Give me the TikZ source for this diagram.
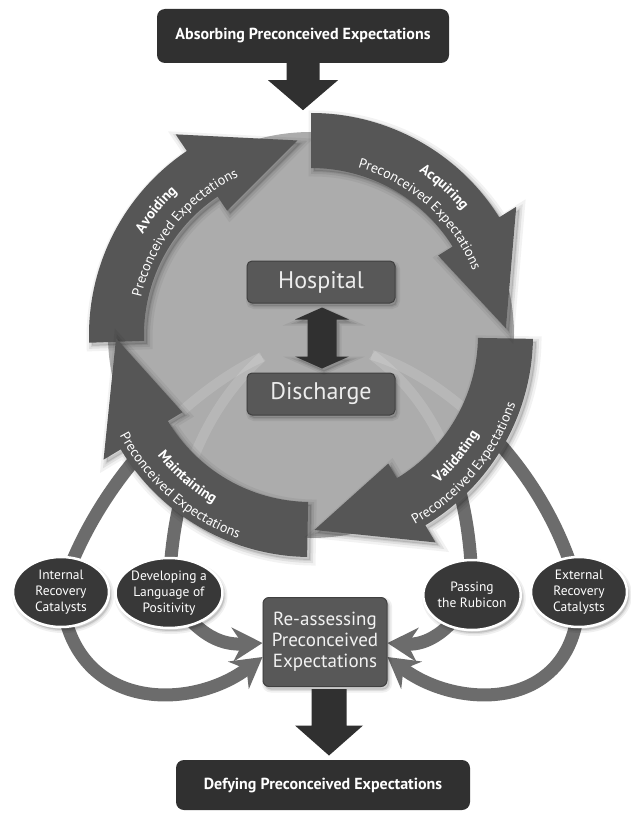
\documentclass[tikz,border=0pt]{standalone}
\usepackage{fontspec}
\setmainfont{PT Sans}
\usetikzlibrary{arrows.meta}
\usetikzlibrary{calc}
\usetikzlibrary{shapes.geometric}
\usetikzlibrary{decorations.text}

\definecolor{boxdark}{RGB}{48,48,48}
\definecolor{ringgray}{RGB}{86,86,86}
\definecolor{discgray}{RGB}{172,172,172}
\definecolor{catgray}{RGB}{108,108,108}
\definecolor{midbox}{RGB}{88,88,88}
\definecolor{ovalgray}{RGB}{56,56,56}

\pgfdeclarelayer{bg}
\pgfsetlayers{bg,main}

\newcommand{\txtsize}[2]{\fontsize{#1}{#2}\selectfont}

% one quarter of the cycle, #1 = angle of the tail
\newcommand{\cyclearrow}[1]{%
  \fill[ringgray, ringshadow]
    (#1:167) -- (#1:222)
    arc[start angle=#1, end angle=#1-58, radius=222]
    -- (#1-58:242) -- (#1-88:195) -- (#1-58:150) -- (#1-58:167)
    arc[start angle=#1-58, end angle=#1, radius=167] -- cycle;
}

% stage names along the ring, #1 = centre angle
\newcommand{\upperlabel}[3]{%
  \path[decorate, decoration={text along path, text align=center,
      text={|\color{white}\bfseries\txtsize{14.5}{14.5}|#2}}]
    (#1+40:196) arc[start angle=#1+40, end angle=#1-40, radius=196];
  \path[decorate, decoration={text along path, text align=center,
      text={|\color{white}\txtsize{14}{14}|#3}}]
    (#1+40:174) arc[start angle=#1+40, end angle=#1-40, radius=174];
}
\newcommand{\lowerlabel}[3]{%
  \path[decorate, decoration={text along path, text align=center,
      text={|\color{white}\bfseries\txtsize{14.5}{14.5}|#2}}]
    (#1-40:195) arc[start angle=#1-40, end angle=#1+40, radius=195];
  \path[decorate, decoration={text along path, text align=center,
      text={|\color{white}\txtsize{14}{14}|#3}}]
    (#1-40:216) arc[start angle=#1-40, end angle=#1+40, radius=216];
}

% the four catalyst strands, upper halves
\newcommand{\catalystpaths}[1]{%
  \draw[#1] (hubL) .. controls (200,-385) and (100,-470) .. (internal.center);
  \draw[#1] (hubL) .. controls (215,-400) and (172,-470) .. (language.center);
  \draw[#1] (hubR) .. controls (420,-390) and (472,-460) .. (rubicon.center);
  \draw[#1] (hubR) .. controls (440,-375) and (545,-460) .. (external.center);
}

\begin{document}
\begin{tikzpicture}[x=1pt, y=1pt,
    ringshadow/.style={
        preaction={draw=black, draw opacity=0.05, line width=11pt,
            fill=black, fill opacity=0.12, transform canvas={shift={(3pt,-3pt)}}},
        preaction={draw=black, draw opacity=0.07, line width=6pt,
            transform canvas={shift={(3pt,-3pt)}}},
        preaction={draw=black, draw opacity=0.08, line width=2pt,
            transform canvas={shift={(3pt,-3pt)}}}},
    softshadow/.style={
        preaction={draw=black, draw opacity=0.06, line width=6pt,
            fill=black, fill opacity=0.12, transform canvas={shift={(2pt,-3pt)}}},
        preaction={draw=black, draw opacity=0.08, line width=2.5pt,
            transform canvas={shift={(2pt,-3pt)}}}},
    headbox/.style={rectangle, rounded corners=8pt, fill=boxdark, text=white,
        font=\bfseries\txtsize{16}{16}, minimum width=292pt,
        minimum height=54pt, inner sep=0pt},
    placebox/.style={rectangle, rounded corners=5pt, fill=midbox,
        draw=black!75, line width=1pt, text=black!7, font=\txtsize{24}{24},
        minimum width=148pt, minimum height=42pt, inner sep=0pt, softshadow},
    reassessbox/.style={rectangle, rounded corners=6pt, fill=midbox,
        draw=black!75, line width=1pt, text=black!5, font=\txtsize{19}{21},
        align=center, minimum width=124pt, minimum height=89pt,
        inner sep=0pt, softshadow},
    oval/.style={ellipse, fill=ovalgray, draw=white, line width=2.5pt,
        text=white, font=\txtsize{13.5}{16}, align=center, minimum width=96pt,
        minimum height=70pt, inner sep=0pt, softshadow},
    catalyst/.style={draw=catgray, line width=13pt},
    faint/.style={draw=white, draw opacity=0.14, line width=10pt},
    swoosh/.style={catalyst, -{Stealth[length=30pt, width=34pt, inset=10pt]}}
]

	\useasboundingbox (0,0) rectangle (630,-813);

	\coordinate (ringc) at (311,-335);
	\coordinate (hubL) at (262,-357);
	\coordinate (hubR) at (372,-355);

	% catalysts and the re-assessing step
	\node[oval] (internal) at (61,-592) {Internal\\Recovery\\Catalysts};
	\node[oval] (language) at (169,-593) {Developing a\\Language of\\Positivity};
	\node[oval] (rubicon) at (472,-595) {Passing\\the Rubicon};
	\node[oval] (external) at (579,-592) {External\\Recovery\\Catalysts};
	\node[reassessbox] (reassess) at (325,-642)
		{Re-assessing\\Preconceived\\Expectations};

	\begin{pgfonlayer}{bg}
		\fill[white] (0,0) rectangle (630,-813);
		\catalystpaths{catalyst}
		\draw[swoosh] (internal.center) .. controls (70,-712) and (190,-712)
			.. ([yshift=-15pt]reassess.west);
		\draw[swoosh] (language.center) .. controls (200,-640) and (225,-645)
			.. ([yshift=-1pt]reassess.west);
		\draw[swoosh] (rubicon.center) .. controls (445,-640) and (420,-645)
			.. ([yshift=-1pt]reassess.east);
		\draw[swoosh] (external.center) .. controls (580,-712) and (460,-712)
			.. ([yshift=-15pt]reassess.east);
	\end{pgfonlayer}

	% the cycle
	\fill[discgray] (ringc) circle[radius=203];
	\begin{scope}
		\clip (ringc) circle[radius=203];
		\catalystpaths{faint}
	\end{scope}

	\begin{scope}[shift={(ringc)}]
		\cyclearrow{182}
		\cyclearrow{-91}
		\cyclearrow{-1}
		\cyclearrow{90}
		\upperlabel{141}{Avoiding}{Preconceived Expectations}
		\upperlabel{48}{Acquiring}{Preconceived Expectations}
		\lowerlabel{-40}{Validating}{Preconceived Expectations}
		\lowerlabel{-131}{Maintaining}{Preconceived Expectations}
	\end{scope}

	\node[placebox] (hospital) at (321,-282) {Hospital};
	\node[placebox] (discharge) at (321,-394) {Discharge};
	\coordinate (dtop) at ($(hospital.south)+(1,-4)$);
	\fill[boxdark, softshadow] (dtop) -- ++(27,-12) -- ++(-12.5,0)
		-- ++(0,-37) -- ++(12.5,0) -- ++(-27,-12) -- ++(-27,12)
		-- ++(12.5,0) -- ++(0,37) -- ++(-12.5,0) -- cycle;

	% entry and exit
	\node[headbox] (absorb) at (303,-36) {Absorbing Preconceived Expectations};
	\fill[boxdark] (absorb.south) ++(-16.5,0) -- ++(0,-17) -- ++(-18.5,0)
		-- ++(35,-30) -- ++(35,30) -- ++(-18.5,0) -- ++(0,17) -- cycle;

	\node[headbox, minimum width=294pt, minimum height=50pt] (defy)
		at (323,-785) {Defying Preconceived Expectations};
	\coordinate (rbot) at ($(reassess.south)+(4,-2)$);
	\fill[boxdark] (rbot) ++(-17.5,0) -- ++(0,-36.5) -- ++(-16.5,0)
		-- ++(34,-30) -- ++(34,30) -- ++(-16.5,0) -- ++(0,36.5) -- cycle;

\end{tikzpicture}
\end{document}
